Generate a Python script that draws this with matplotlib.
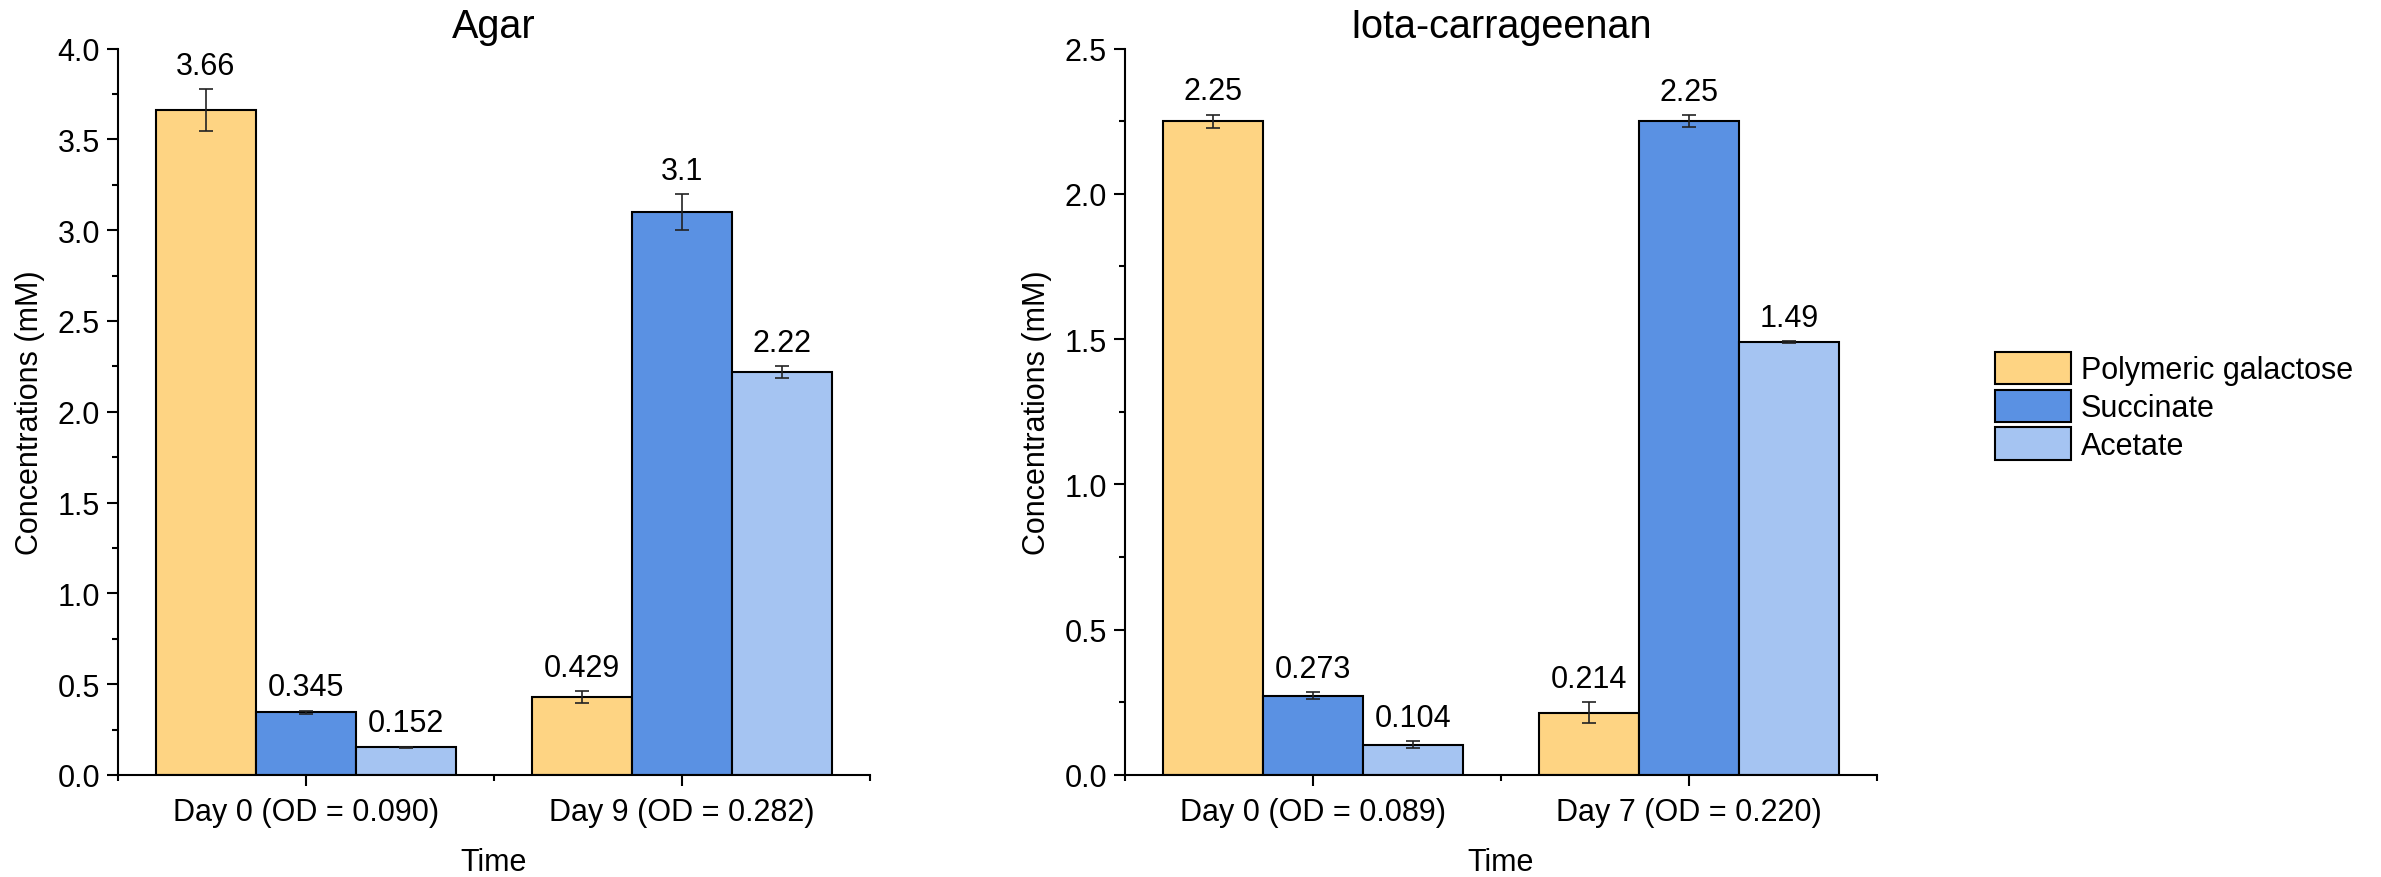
import numpy as np
import matplotlib
matplotlib.use('Agg')
import matplotlib.pyplot as plt
from matplotlib.patches import Patch
from matplotlib.ticker import MultipleLocator, FormatStrFormatter

plt.rcParams['font.family'] = ['Liberation Sans', 'DejaVu Sans']

# ---------------------------------------------------------
# Data
# ---------------------------------------------------------
series = ['Polymeric galactose', 'Succinate', 'Acetate']
colors = ['#FED483', '#5A91E3', '#A5C4F2']

agar_days = ['Day 0 (OD = 0.090)', 'Day 9 (OD = 0.282)']
agar_vals = [[3.66, 0.429], [0.345, 3.1], [0.152, 2.22]]
agar_errs = [[0.116, 0.032], [0.010, 0.098], [0.004, 0.032]]
agar_text = [['3.66', '0.429'], ['0.345', '3.1'], ['0.152', '2.22']]

iota_days = ['Day 0 (OD = 0.089)', 'Day 7 (OD = 0.220)']
iota_vals = [[2.25, 0.214], [0.273, 2.25], [0.104, 1.49]]
iota_errs = [[0.022, 0.036], [0.012, 0.020], [0.012, 0.004]]
iota_text = [['2.25', '0.214'], ['0.273', '2.25'], ['0.104', '1.49']]


def draw_panel(ax, title, days, vals, errs, texts, ymax):
    x = np.arange(1, len(days) + 1)
    width = 0.8 / len(series)
    for i, name in enumerate(series):
        pos = x + (i - 1) * width
        ax.bar(pos, vals[i], width, color=colors[i], edgecolor='black',
               linewidth=1.5, label=name, zorder=2)
        ax.errorbar(pos, vals[i], yerr=errs[i], fmt='none', ecolor='#222222',
                    elinewidth=1.2, capsize=5, capthick=1.2, zorder=3)
        for p, v, e, t in zip(pos, vals[i], errs[i], texts[i]):
            ax.annotate(t, (p, v + e), xytext=(0, 11), textcoords='offset points',
                        ha='center', va='baseline', fontsize=22)

    ax.set_xlim(0.5, len(days) + 0.5)
    ax.set_ylim(0, ymax)
    ax.set_xticks(x)
    ax.set_xticklabels(days)
    ax.set_xticks(np.arange(0.5, len(days) + 1, 1.0), minor=True)
    ax.yaxis.set_major_locator(MultipleLocator(0.5))
    ax.yaxis.set_minor_locator(MultipleLocator(0.25))
    ax.yaxis.set_major_formatter(FormatStrFormatter('%.1f'))

    for side in ['top', 'right']:
        ax.spines[side].set_visible(False)
    for side in ['left', 'bottom']:
        ax.spines[side].set_linewidth(1.5)
    ax.tick_params(which='major', length=8, width=1.5, labelsize=22)
    ax.tick_params(axis='x', which='major', pad=8)
    ax.tick_params(axis='y', which='major', pad=5)
    ax.tick_params(which='minor', length=4, width=1.5)

    ax.set_title(title, fontsize=28.5, pad=8)
    ax.set_xlabel('Time', fontsize=22, labelpad=14)
    ax.set_ylabel('Concentrations (mM)', fontsize=22, labelpad=9)


# ---------------------------------------------------------
# Plot
# ---------------------------------------------------------
fig = plt.figure(figsize=(23.81, 8.78), dpi=100)
ax1 = fig.add_axes([0.0496, 0.1162, 0.3158, 0.8274])
ax2 = fig.add_axes([0.4725, 0.1162, 0.3158, 0.8274])

draw_panel(ax1, 'Agar', agar_days, agar_vals, agar_errs, agar_text, 4.0)
draw_panel(ax2, 'Iota-carrageenan', iota_days, iota_vals, iota_errs, iota_text, 2.5)

handles = [Patch(facecolor=c, edgecolor='black', linewidth=1.5) for c in colors]
fig.legend(handles, series, loc='center left', bbox_to_anchor=(0.838, 0.536),
           fontsize=22, frameon=False, handlelength=2.48, handleheight=1.26,
           labelspacing=0.14, handletextpad=0.32, borderpad=0, borderaxespad=0)

fig.savefig('out.png', dpi=100)
